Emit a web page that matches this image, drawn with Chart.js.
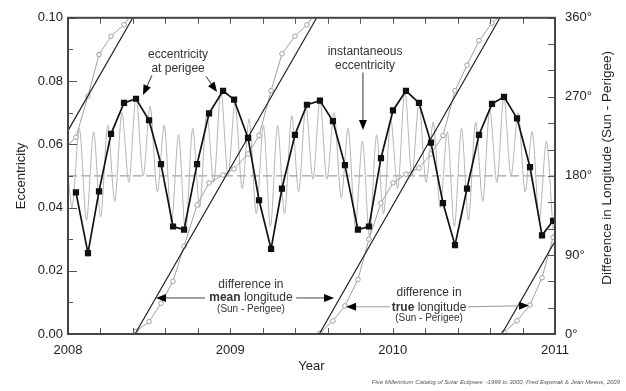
<!DOCTYPE html>
<html>
<head>
<meta charset="utf-8">
<script src="https://cdn.jsdelivr.net/npm/chart.js@4.4.0/dist/chart.umd.min.js"></script>
<style>
  html, body { margin: 0; padding: 0; background: #fff; }
</style>
</head>
<body>
<canvas id="chart" width="626" height="391"></canvas>
<script>
// eccentricity at each perigee
const perigeeYears = [2008.049, 2008.123, 2008.191, 2008.265, 2008.345, 2008.419, 2008.499, 2008.573,
    2008.647, 2008.715, 2008.795, 2008.869, 2008.955, 2009.023, 2009.109, 2009.177, 2009.251, 2009.318,
    2009.398, 2009.472, 2009.552, 2009.632, 2009.706, 2009.786, 2009.854, 2009.928, 2010.002, 2010.082,
    2010.162, 2010.236, 2010.310, 2010.384, 2010.458, 2010.532, 2010.612, 2010.686, 2010.766, 2010.846,
    2010.920, 2010.988];
const perigeeEcc = [0.0448, 0.0256, 0.0451, 0.0633, 0.0731, 0.0744, 0.0676, 0.0537,
    0.0340, 0.0330, 0.0537, 0.0698, 0.0769, 0.0741, 0.0620, 0.0423, 0.0269, 0.0460,
    0.0630, 0.0725, 0.0738, 0.0673, 0.0534, 0.0330, 0.0340, 0.0556, 0.0707, 0.0769,
    0.0731, 0.0605, 0.0414, 0.0281, 0.0460, 0.0630, 0.0728, 0.0750, 0.0682, 0.0528,
    0.0312, 0.0358];

// instantaneous eccentricity (peaks and troughs)
const instYears = [2008.000, 2008.026, 2008.070, 2008.114, 2008.158, 2008.201, 2008.245, 2008.288,
    2008.332, 2008.375, 2008.419, 2008.463, 2008.506, 2008.550, 2008.593, 2008.637, 2008.681, 2008.724,
    2008.768, 2008.811, 2008.855, 2008.898, 2008.942, 2008.986, 2009.029, 2009.073, 2009.116, 2009.160,
    2009.204, 2009.247, 2009.291, 2009.334, 2009.378, 2009.421, 2009.465, 2009.509, 2009.552, 2009.595,
    2009.639, 2009.683, 2009.726, 2009.770, 2009.814, 2009.857, 2009.901, 2009.944, 2009.988, 2010.031,
    2010.075, 2010.119, 2010.162, 2010.206, 2010.250, 2010.293, 2010.337, 2010.380, 2010.424, 2010.467,
    2010.511, 2010.555, 2010.598, 2010.642, 2010.685, 2010.729, 2010.773, 2010.816, 2010.860, 2010.903,
    2010.947, 2010.990, 2011.000];
const instEcc = [0.050, 0.040, 0.065, 0.036, 0.064, 0.037, 0.066, 0.042,
    0.070, 0.048, 0.075, 0.050, 0.072, 0.045, 0.066, 0.035, 0.063, 0.032,
    0.065, 0.040, 0.070, 0.048, 0.077, 0.050, 0.073, 0.046, 0.068, 0.038,
    0.066, 0.034, 0.066, 0.038, 0.069, 0.045, 0.072, 0.049, 0.074, 0.049,
    0.070, 0.043, 0.065, 0.034, 0.061, 0.031, 0.063, 0.038, 0.068, 0.046,
    0.077, 0.050, 0.073, 0.048, 0.067, 0.040, 0.064, 0.034, 0.065, 0.036,
    0.067, 0.042, 0.071, 0.048, 0.075, 0.050, 0.070, 0.045, 0.064, 0.036,
    0.061, 0.033, 0.045];

const refEcc = 0.05;

// difference in mean longitude (Sun - Perigee), degrees
const meanLonYears = [2008.000, 2008.399, 2008.405, 2008.413, 2009.532, 2009.540, 2009.548, 2010.661, 2010.666, 2010.672, 2011.000];
const meanLonDeg = [231.6, 360, null, 0, 360, null, 0, 360, null, 0, 105.5];

// difference in true longitude (Sun - Perigee), degrees
const trueLonYears = [2008.000, 2008.049, 2008.123, 2008.191, 2008.265, 2008.345, 2008.376, 2008.400,
    2008.419, 2008.499, 2008.573, 2008.647, 2008.715, 2008.795, 2008.869, 2008.955, 2009.023, 2009.109,
    2009.177, 2009.251, 2009.318, 2009.398, 2009.472, 2009.503, 2009.530,
    2009.552, 2009.632, 2009.706, 2009.786, 2009.854, 2009.928, 2010.002, 2010.082, 2010.162, 2010.236,
    2010.310, 2010.384, 2010.458, 2010.532, 2010.612, 2010.649, 2010.670,
    2010.686, 2010.766, 2010.846, 2010.920, 2010.988, 2011.000];
const trueLonDeg = [215, 224, 271, 318, 339, 352, 360, null,
    3, 14, 35, 60, 100, 147, 172, 181, 188, 205,
    226, 277, 319, 339, 352, 360, null,
    1, 15, 32, 62, 108, 149, 172, 182, 189, 205,
    226, 277, 306, 334, 354, 360, null,
    2, 15, 33, 64, 110, 118];

const xMin = 2008, xMax = 2011;
const eccMax = 0.10, lonMax = 360;

const FONT = '"Liberation Sans", Arial, Helvetica, sans-serif';

function pts(xs, ys) {
    return xs.map(function (x, i) { return { x: x, y: ys[i] }; });
}
function isWhole(v) {
    return Math.abs(v - Math.round(v)) < 1e-6;
}

function line(ctx, x1, y1, x2, y2) {
    ctx.beginPath();
    ctx.moveTo(x1, y1);
    ctx.lineTo(x2, y2);
    ctx.stroke();
}

function arrow(ctx, x1, y1, x2, y2, color) {
    const ang = Math.atan2(y2 - y1, x2 - x1);
    const len = 10, half = 4;
    ctx.strokeStyle = color;
    ctx.lineWidth = 1;
    line(ctx, x1, y1, x2 - Math.cos(ang) * len * 0.6, y2 - Math.sin(ang) * len * 0.6);
    ctx.fillStyle = '#000';
    ctx.beginPath();
    ctx.moveTo(x2, y2);
    ctx.lineTo(x2 - Math.cos(ang) * len - Math.sin(ang) * half, y2 - Math.sin(ang) * len + Math.cos(ang) * half);
    ctx.lineTo(x2 - Math.cos(ang) * len + Math.sin(ang) * half, y2 - Math.sin(ang) * len - Math.cos(ang) * half);
    ctx.closePath();
    ctx.fill();
}

// inward tick marks and plot box
const frame = {
    id: 'frame',
    afterDatasetsDraw(chart) {
        const ctx = chart.ctx, a = chart.chartArea, s = chart.scales;
        ctx.save();
        ctx.strokeStyle = '#555';
        ctx.lineWidth = 1;
        s.x.ticks.forEach(function (t) {
            const px = Math.round(s.x.getPixelForValue(t.value)) + 0.5;
            line(ctx, px, a.bottom, px, a.bottom - 6);
            line(ctx, px, a.top, px, a.top + 6);
        });
        s.y.ticks.forEach(function (t) {
            const py = Math.round(s.y.getPixelForValue(t.value)) + 0.5;
            const len = isWhole(t.value * 50) ? 9 : 5;
            line(ctx, a.left, py, a.left + len, py);
        });
        s.y2.ticks.forEach(function (t) {
            const py = Math.round(s.y2.getPixelForValue(t.value)) + 0.5;
            line(ctx, a.right, py, a.right - 7, py);
        });
        ctx.strokeStyle = '#444';
        ctx.lineWidth = 2;
        ctx.strokeRect(a.left, a.top, a.right - a.left, a.bottom - a.top);
        ctx.restore();
    }
};

// labels and arrows inside the plot, right axis title, source line
const notes = {
    id: 'notes',
    afterDraw(chart) {
        const ctx = chart.ctx, sx = chart.scales.x, sy = chart.scales.y, a = chart.chartArea;
        const X = function (v) { return sx.getPixelForValue(v); };
        const Y = function (v) { return sy.getPixelForValue(v); };
        ctx.save();
        ctx.fillStyle = '#333';
        ctx.textAlign = 'center';
        ctx.textBaseline = 'middle';
        ctx.font = '12px ' + FONT;
        ctx.fillText('eccentricity', X(2008.678), Y(0.0883));
        ctx.fillText('at perigee', X(2008.678), Y(0.0840));
        arrow(ctx, X(2008.517), Y(0.0818), X(2008.462), Y(0.0756), '#333');
        arrow(ctx, X(2008.850), Y(0.0815), X(2008.918), Y(0.0765), '#333');

        ctx.fillStyle = '#333';
        ctx.font = '12px ' + FONT;
        ctx.fillText('instantaneous', X(2009.830), Y(0.0892));
        ctx.fillText('eccentricity', X(2009.830), Y(0.0849));
        arrow(ctx, X(2009.817), Y(0.0827), X(2009.817), Y(0.0645), '#333');

        function block(cx, y1, y2, y3, bold) {
            ctx.fillStyle = '#333';
            ctx.textAlign = 'center';
            ctx.font = '12px ' + FONT;
            ctx.fillText('difference in', X(cx), Y(y1));
            ctx.font = 'bold 12px ' + FONT;
            const wb = ctx.measureText(bold).width;
            ctx.font = '12px ' + FONT;
            const wr = ctx.measureText(' longitude').width;
            const left = X(cx) - (wb + wr) / 2;
            ctx.textAlign = 'left';
            ctx.font = 'bold 12px ' + FONT;
            ctx.fillText(bold, left, Y(y2));
            ctx.font = '12px ' + FONT;
            ctx.fillText(' longitude', left + wb, Y(y2));
            ctx.textAlign = 'center';
            ctx.font = '10px ' + FONT;
            ctx.fillText('(Sun - Perigee)', X(cx), Y(y3));
        }
        block(2009.127, 0.0157, 0.0114, 0.0077, 'mean');
        arrow(ctx, X(2008.844), Y(0.0114), X(2008.542), Y(0.0114), '#444');
        arrow(ctx, X(2009.405), Y(0.0114), X(2009.639), Y(0.0114), '#444');

        block(2010.224, 0.0130, 0.0083, 0.0049, 'true');
        arrow(ctx, X(2009.984), Y(0.0086), X(2009.713), Y(0.0086), '#999');
        arrow(ctx, X(2010.464), Y(0.0086), X(2010.840), Y(0.0090), '#999');

        // right axis title, reading bottom to top
        ctx.save();
        ctx.translate(607, (a.top + a.bottom) / 2 - 8);
        ctx.rotate(-Math.PI / 2);
        ctx.fillStyle = '#222';
        ctx.textAlign = 'center';
        ctx.font = '13.5px ' + FONT;
        ctx.fillText('Difference in Longitude (Sun - Perigee)', 0, 0);
        ctx.restore();

        ctx.fillStyle = '#555';
        ctx.textAlign = 'right';
        ctx.font = 'italic 6px ' + FONT;
        ctx.fillText('Five Millennium Catalog of Solar Eclipses: -1999 to 3000, Fred Espenak & Jean Meeus, 2009', 620, 382);
        ctx.restore();
    }
};

const chart = new Chart(document.getElementById('chart'), {
    type: 'line',
    data: {
        datasets: [{
            label: 'eccentricity at perigee',
            data: pts(perigeeYears, perigeeEcc),
            yAxisID: 'y',
            borderColor: '#111',
            backgroundColor: '#111',
            borderWidth: 1.7,
            pointStyle: 'rect',
            pointRadius: 3.2,
            tension: 0,
            order: 0
        }, {
            label: 'difference in mean longitude',
            data: pts(meanLonYears, meanLonDeg),
            yAxisID: 'y2',
            borderColor: '#222',
            borderWidth: 1.2,
            pointRadius: 0,
            spanGaps: false,
            order: 1
        }, {
            label: 'difference in true longitude',
            data: pts(trueLonYears, trueLonDeg),
            yAxisID: 'y2',
            borderColor: '#a0a0a0',
            backgroundColor: '#fff',
            borderWidth: 1,
            pointBorderColor: '#a0a0a0',
            pointBorderWidth: 1,
            pointRadius: function (c) {
                const r = c.raw;
                if (!r || r.y === null || r.y === lonMax || r.x === xMin || r.x === xMax) return 0;
                return 2.3;
            },
            spanGaps: false,
            order: 2
        }, {
            label: 'instantaneous eccentricity',
            data: pts(instYears, instEcc),
            yAxisID: 'y',
            borderColor: '#b4b4b4',
            borderWidth: 1,
            pointRadius: 0,
            tension: 0.3,
            order: 3
        }, {
            label: 'mean eccentricity',
            data: pts([xMin, xMax], [refEcc, refEcc]),
            yAxisID: 'y',
            borderColor: '#888',
            borderWidth: 1,
            borderDash: [9, 4],
            pointRadius: 0,
            order: 4
        }]
    },
    options: {
        responsive: false,
        animation: false,
        events: [],
        layout: { padding: { top: 10, left: 0, right: 0, bottom: 0 } },
        plugins: { legend: { display: false }, tooltip: { enabled: false } },
        scales: {
            x: {
                type: 'linear',
                min: xMin,
                max: xMax,
                grid: { display: false, drawTicks: false },
                border: { display: false },
                afterFit: function (scale) { scale.height = 57; },
                ticks: {
                    stepSize: 0.2,
                    autoSkip: false,
                    maxRotation: 0,
                    padding: 9,
                    color: '#222',
                    font: { family: FONT, size: 13 },
                    callback: function (v) { return isWhole(v) ? String(Math.round(v)) : ''; }
                },
                title: {
                    display: true,
                    text: 'Year',
                    color: '#222',
                    font: { family: FONT, size: 13 },
                    padding: { top: 0, bottom: 17 }
                }
            },
            y: {
                position: 'left',
                min: 0,
                max: eccMax,
                grid: { display: false, drawTicks: false },
                border: { display: false },
                afterFit: function (scale) { scale.width = 68; },
                ticks: {
                    stepSize: 0.01,
                    autoSkip: false,
                    padding: 5,
                    color: '#222',
                    font: { family: FONT, size: 13 },
                    callback: function (v) { return isWhole(v * 50) ? v.toFixed(2) : ''; }
                },
                title: {
                    display: true,
                    text: 'Eccentricity',
                    color: '#222',
                    font: { family: FONT, size: 13 },
                    padding: { top: 14, bottom: 0 }
                }
            },
            y2: {
                position: 'right',
                min: 0,
                max: lonMax,
                grid: { display: false, drawTicks: false },
                border: { display: false },
                afterFit: function (scale) { scale.width = 71; },
                ticks: {
                    stepSize: 30,
                    autoSkip: false,
                    padding: 10,
                    color: '#222',
                    font: { family: FONT, size: 13 },
                    callback: function (v) { return v % 90 === 0 ? v + '\u00b0' : ''; }
                },
                title: { display: false }
            }
        }
    },
    plugins: [frame, notes]
});
</script>
</body>
</html>
